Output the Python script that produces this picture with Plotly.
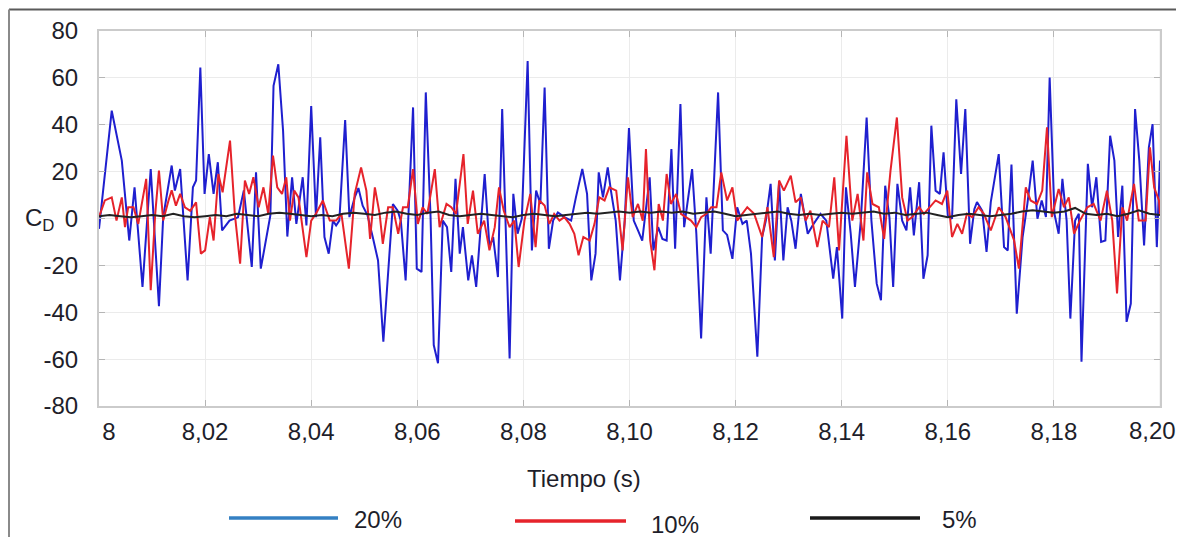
import numpy as np
import plotly.graph_objects as go

# ---- data (time offset in ms from t = 8 s, C_D values) ----
blue_ms = [0, 2.4, 4.3, 5.7, 6.7, 8.2, 9.75, 11.3, 12.1, 13.7, 14.3, 15.3, 16.7, 17.7, 18.3, 19.1, 19.9, 20.7,
           21.6, 22.4, 23.2, 24.6, 26.2, 27.3, 28.8, 29.6, 30.5, 32.3, 32.9, 33.8, 34.7, 35.5, 36.4, 37.2,
           38.4, 39.1, 40, 40.9, 41.7, 42.5, 43.3, 44.1, 44.7, 45.3, 46.4, 47.2, 48.2, 48.9, 49.7, 50.6,
           51.6, 52.6, 53.6, 54.7, 55.4, 56.3, 56.9, 57.8, 59.2, 59.9, 60.8, 61.6, 62.5, 63.1, 63.9, 64.8,
           65.6, 66.4, 67.2, 68, 68.6, 69.6, 70.3, 71.1, 72.7, 73.6, 74.3, 75.2, 76, 77.4,
           78.1, 78.9, 79.7, 80.8, 81.6, 82.4, 83.2, 84, 84.8, 85.6, 86.5, 87.8, 89, 89.9, 91.1, 92, 92.8,
           93.6, 94.2, 95, 95.9, 96.5, 97.4, 98.2, 99.1, 99.9, 100.8, 101.6, 102.4, 103.8, 104.5, 105.4,
           106.2, 107, 107.9, 108.6, 109.6, 110.3, 111.8, 112.6, 113.5, 114.5, 115.3, 116.7, 117.6, 118.4,
           119.4, 120.3, 121.3, 122.1, 122.9, 124.1, 125, 125.7, 126.6, 127.4, 128.2, 129, 129.8, 130.5,
           131.3, 132.3, 133.6, 134.7, 136, 137.1, 138.4, 139.1, 140.1, 140.8, 141.7, 142.5, 143.6, 144.7,
           145.6, 146.6, 147.4, 148.2, 149, 149.7, 150.5, 151.4, 152.2, 152.9, 153.6, 154.6, 155.4, 156.2,
           156.9, 157.7, 158.5,
           159.2, 160, 160.8, 161.6, 162.5, 163.3, 164.2, 165, 165.5, 166.5, 167.3, 168.1, 169.6, 170.6,
           171.3, 172, 173, 174.1, 175, 176, 176.9, 177.7, 178.5, 179.2, 180.1, 180.9, 181.6, 182.4, 183.1,
           184, 184.7, 185.2, 186.4, 187.2, 188, 188.9, 189.7, 190.6, 191.4, 192.1, 192.9, 193.7, 194.5,
           195.3, 196.1, 197, 197.9, 198.6, 199.4, 200]
blue_cd = [-4.4, 46, 24.7, -9.4, 13.3, -29.2, 21.1, -37.4, 0.6, 22.6, 11.9, 21.1, -26.4, 13.3, 16.2, 64.4, 10.5, 27.5,
           10.5, 24, -5.1, -0.9, 0.5, 12, -20.7, 19.7, -21.4, 1.3, 56.6, 65.8, 37.4, -7.7, 17.6, -2.3,
           17.6, -3, 48, 0.6, 34.6, -7.9, -15, -0.9, -3, -0.9, 42, 0.6, 9, 13, 5.5, 1.5,
           -7.9, -17.9, -52.6, -15, 6.2, 3.3, -0.9, -26.4, 47.4, -21.4, -22.8, 53.8, 0.6, -54, -61.8, -0.9,
           -3.7, -22.8, 16.9, -15, -3.7, -26.4, -15.7, -29.2, 19, -12.2, -7.9, -25, 46.7, -59.7,
           10.5, -6.5, 0, 67.2, -13.6, 11.9, 6.2, 55.9, -12.9, -0.9, 2.6, 0.5, -0.9, 9, 21.1, 10.5, -26.4,
           -15, 19.7, 9, 21.8, 11.9, -0.9, -26.4, -0.9, 38.6, -0.9, -5.1, -9.4, 17.6, -13.6, -3.7,
           -8.7, -9.4, 29.6, -12.9, 48.8, -3.7, 21.1, -6.5, -51.2, 9, -15, 53.8, -5.1, -7,
           -17.2, 4.8, -2.3, -0.9, -15, -59, -7.9, -0.9, 14.8, -17.9, 15.5, -17.9, 4.8, -0.9,
           -12.9, 10.5, -6.5, -2.3, 2, -0.9, -25.7, -12.2, -42.7, 13.3, -6.5, -29.2, -0.9, 43.1,
           -0.9, -27.8, -34.9, 14, 0.5, -29.2, 14.8, -0.9, -5.1, 13.3, -7.2, 15.5, -25.7, -15.7,
           39.6, 11.9, 10.5,
           28.2, 1.3, -0.1, 50.9, 19, 46.7, -10.8, 4, 7, 3.3, -14.3, 7, 27.5, -12.2,
           -13.6, 23, -40.6, -7.9, 6.2, 24.7, -0.1, 7.7, 0.6, 60.1, 2, -6.5, 16.9, -0.9, -42.7,
           -0.9, 2, -61.1, 23.3, 4.8, 17.6, -10, -9.4, 35.3, 24.7, -7.9, 14, -44.1, -36.3,
           46.7, 24.7, -11.5, 30.4, 40.3, -12.2, 24.7]

red_ms = [0, 1.1, 2.4, 3.3, 4.3, 4.9, 5.5, 6.5, 7.4, 8.9, 9.75, 10.6, 11.3, 12.1, 13.1, 13.7, 14.5, 15.3, 16.2,
          17.2, 18.3, 19.2, 20, 20.9, 21.6, 22.5, 23.3, 24.7, 25.6, 26.6, 27.5, 28.3, 29.1, 30.1, 31, 31.9,
          32.8, 33.6, 34.5, 35.3, 36, 36.8, 37.6,
          39.1, 40, 40.9, 42.2, 43.5, 44.7, 45.7, 47.1, 48.2, 49.4, 50.4, 51.1, 52, 52.9, 53.5, 54.5, 55.4,
          56.4, 57.3, 58.2, 59.2, 60.1, 61, 61.9, 63.3, 64.2, 65.5, 66.4, 67.3, 68.7, 69.5, 70.5, 71.4, 72.6,
          73.6, 74.6, 75.4, 76.3, 77.4, 78.3,
          79.1, 80.2, 81.3, 82.3, 83, 84, 84.9, 85.8, 86.8, 87.7, 88.7, 89.6, 90.4, 91.3, 92.5, 93.4, 94.3,
          95.3, 96.2, 97.5, 98.7, 99.7, 100.6, 101.6, 102.5, 103.1, 103.9, 104.7, 105.5, 106.3, 107, 107.8,
          108.8, 109.7, 110.6, 111.6, 112.6, 113.5, 114.5, 115.4, 116.4, 117.3,
          118.4, 119.4, 120.3, 121.2, 122.2, 123.5, 125, 126, 127.2, 128.2, 129.1, 130.4, 131.3, 132.3,
          133.2, 134.1, 135.4, 136.4, 137.6, 138.6, 139.5, 140.9, 142, 143, 144.1, 144.8, 145.8, 147, 148,
          149.2, 150.4, 151.4, 152.4, 153.3, 154.6, 155.5, 156.5,
          157.7, 158.9, 159.9, 160.8, 161.8, 162.7, 163.6, 164.6, 165.8, 166.8, 168.1, 169.6, 170.9, 172.5,
          173.4, 174.7, 175.6, 176.8, 177.8, 178.7, 179.6, 180.9, 181.9, 182.8, 183.8, 184.9, 186.3, 187.5,
          188.8, 190, 191, 191.9, 192.9, 193.8, 195.1, 196, 197.3, 198.1, 198.9, 199.8, 200]
red_cd = [0.6, 7.7, 9, -0.9, 9, -3.7, 4.8, 4.8, -2.3, 16.9, -30.6, 2, 20.4, -0.9, 7.7, 12, 5.5, 10.5, 4.8,
          3.3, 6.9, -15, -13.6, 0.6, -9.4, 19, 11.2, 33.2, 2, -19.3, 16.2, 10.5, 17.6, 4.8, 13.3, 2,
          26.8, 13.3, 10.5, 17.6, -0.9, 11.9, 9,
          -16.5, -0.9, 2, 7.7, -0.9, -0.9, 2, -21.4, 10.5, 21.8, 11.9, -8.7, 13.3, 2, -10.8, 4.8, 4.8,
          -6.5, 4.8, 4.8, 21.1, -2.3, 4.8, 2, 21.1, -3.7, 6.2, 4.8, 2, 27.5, -2.3, 11.9, -6.5, -0.9,
          -13.6, -3.7, 13.3, 3.3, -3.7, -0.9,
          -20.7, -0.9, 10.5, -12.2, 7.7, 5.5, -2.3, 2, -0.9, 0.6, -2.3, -6.5, -15.7, -7.9, -9.4, -2.3, 9,
          7.7, 13.3, 11.9, -13.6, 17.6, 0.6, 6.2, -0.9, 29.6, -9.4, -22.1, 6.2, -0.9, 19, 6.2,
          10.5, 2, 0.6, -0.9, -3.7, 0.6, 2, 4.8, 4.8, 19.7,
          7.7, 13.3, -0.9, 2, 4.8, 2, -7.9, 4.8, -16.5, 16.2, 11.9, 18.3, 6.9, 9,
          -0.9, 3.3, -12.2, -0.9, -3.7, 17.6, -13.6, 35.3, -0.9, 10.5, -9.4, 19.7, 6.2, 4.8, -8.7,
          20.4, 43.1, 9, -0.9, 0.6, 4.8, 2, 4.8,
          7.7, 6.2, 11.9, -7.9, -2.3, -6.5, 2, 0.6, 4.8, 2, -5.1, 4.8, 0.6, -9.4,
          -21.4, 13.3, 7.7, 6.2, 11.9, 38.9, 0.6, 12.6, 4.8, 9, -6.5, -0.9, 4.8, 6.2,
          -0.9, 11.9, -0.9, -32, 4.8, -0.9, 14.8, -0.9, -0.9, 30.4, 13.3, 7.7, 2]

black_ms = [0, 2, 4, 6, 8, 10, 12, 14, 16, 18, 20, 22, 24, 26, 28, 30, 32, 34, 36, 38, 40, 42, 44, 46, 48, 50,
            52, 54, 56, 58, 60, 62, 64, 66, 68, 70, 72, 74, 76, 78, 80, 82, 84, 86, 88, 90, 92, 94, 96, 98, 100,
            102, 104, 106, 108, 110, 112, 114, 116, 118, 120, 122, 124, 126, 128, 130, 132, 134, 136, 138, 140,
            142, 144, 146, 148, 150, 152, 154, 156, 158, 160, 162, 164, 166, 168, 170, 172, 174, 176, 178, 180,
            182, 184, 186, 188, 190, 192, 194, 196, 198, 200]
black_cd = [1, 1.5, 1, 0.5, 1, 1.5, 1, 2, 1, 0.5, 1, 1.5, 1, 2, 1.5, 1, 2, 2.5, 2, 1.5, 1, 1.5, 1, 2, 2.5, 2,
            1.5, 2.5, 3, 2, 1.5, 2.5, 3, 1.5, 1, 1.5, 2, 1.5, 1, 0.5, 1.5, 2, 1.5, 1, 1.5, 2, 2.5, 2, 2.5, 3, 2.5,
            3, 2.5, 3, 2.5, 3, 2, 2.5, 3, 2, 1, 1.5, 2, 2.5, 3, 2, 1.5, 2, 1.5, 2, 2.5,
            2, 2.5, 3, 2, 2.5, 1.5, 2, 2.5, 1.5, 0.5, 1.5, 2, 1.5, 1, 1.5, 2, 3, 3.5, 3, 2.5,
            3, 4.5, 2, 1.5, 2, 1, 2, 3.5, 2, 1.5]

x_tickvals = [8.00, 8.02, 8.04, 8.06, 8.08, 8.10, 8.12, 8.14, 8.16, 8.18]
x_ticktext = ["\u00a0\u00a0\u00a08", "8,02", "8,04", "8,06", "8,08", "8,10", "8,12", "8,14", "8,16", "8,18"]
x_last_label = "8,20"   # drawn as a separate text so it stays inside the page edge
y_tickvals = [-80, -60, -40, -20, 0, 20, 40, 60, 80]
y_ticktext = ["-80", "-60", "-40", "-20", "0", "20", "40", "60", "80"]
legend_names = ["20%", "10%", "5%"]

# ---- figure ----
FONT = "Liberation Sans, Arial, sans-serif"
TXT = "#1e1e2a"


def to_s(ms):
    return 8 + np.array(ms) / 1000.0


fig = go.Figure()
fig.add_trace(go.Scatter(x=to_s(blue_ms), y=blue_cd, mode="lines", name=legend_names[0],
                         line=dict(color="#1f1fcf", width=2)))
fig.add_trace(go.Scatter(x=to_s(red_ms), y=red_cd, mode="lines", name=legend_names[1],
                         line=dict(color="#e6232b", width=2)))
fig.add_trace(go.Scatter(x=to_s(black_ms), y=black_cd, mode="lines", name=legend_names[2],
                         line=dict(color="#222222", width=2)))

# page offset of the figure (default 8px body margin of the html page)
OFF = 8
W, H = 1184 - OFF, 537 - OFF
# plot area in page pixels: x 99..1160, y 31..406
L, R, T, B = 99 - OFF, W - (1160 - OFF), 31 - OFF, H - (406 - OFF)
pw, ph = W - L - R, H - T - B


def px(x):  # page pixel x -> paper
    return (x - OFF - L) / pw


def py(y):  # page pixel y -> paper
    return (H - B - (y - OFF)) / ph


fig.update_layout(
    width=W, height=H,
    margin=dict(l=L, r=R, t=T, b=B, autoexpand=False),
    paper_bgcolor="white", plot_bgcolor="white",
    showlegend=False,
    font=dict(family=FONT, size=24, color=TXT),
)
fig.update_xaxes(range=[8.0, 8.2], tickvals=x_tickvals, ticktext=x_ticktext,
                 showgrid=True, gridcolor="#ebebeb", gridwidth=1,
                 showline=True, linecolor="#cbcbcb", linewidth=2, mirror="ticks",
                 ticks="inside", ticklen=6, tickcolor="#b5b5b5", tickwidth=1,
                 zeroline=False, ticklabelstandoff=3,
                 tickfont=dict(family=FONT, size=24, color=TXT))
fig.update_yaxes(range=[-80, 80], tickvals=y_tickvals, ticktext=y_ticktext,
                 showgrid=True, gridcolor="#ebebeb", gridwidth=1,
                 showline=True, linecolor="#cbcbcb", linewidth=2, mirror="ticks",
                 ticks="inside", ticklen=6, tickcolor="#b5b5b5", tickwidth=1,
                 zeroline=False, ticklabelstandoff=14,
                 tickfont=dict(family=FONT, size=24, color=TXT))
# gridline + tick for the last x value (its label is placed separately)
fig.add_vline(x=8.2, line=dict(color="#ebebeb", width=1), layer="below")

fig.add_annotation(text=x_last_label, xref="paper", yref="paper", x=px(1152.5), y=py(430),
                   xanchor="center", yanchor="middle", showarrow=False,
                   font=dict(family=FONT, size=24, color=TXT))

# axis titles
fig.add_annotation(text="C<sub>D</sub>", xref="paper", yref="paper", x=px(39), y=py(219),
                   xanchor="center", yanchor="middle", showarrow=False,
                   font=dict(family=FONT, size=24, color=TXT))
fig.add_annotation(text="Tiempo (s)", xref="paper", yref="paper", x=px(584), y=py(478),
                   xanchor="center", yanchor="middle", showarrow=False,
                   font=dict(family=FONT, size=24, color=TXT))

# custom legend (long line samples)
legend_items = [
    (legend_names[0], "#3480c3", 229, 338, 518, 352, 519),
    (legend_names[1], "#e6232b", 515, 626, 521, 649, 524),
    (legend_names[2], "#1a1a1a", 810, 920, 518, 940, 519),
]
for name, col, x0, x1, yl, xt, yt in legend_items:
    fig.add_shape(type="line", xref="paper", yref="paper", x0=px(x0), x1=px(x1), y0=py(yl), y1=py(yl),
                  line=dict(color=col, width=3.5))
    fig.add_annotation(text=name, xref="paper", yref="paper", x=px(xt), y=py(yt),
                       xanchor="left", yanchor="middle", showarrow=False,
                       font=dict(family=FONT, size=24, color=TXT))

# outer frame (top and left edges visible in reference)
fig.add_shape(type="line", xref="paper", yref="paper", x0=px(9), x1=px(1184), y0=py(9.5), y1=py(9.5),
              line=dict(color="#5a5a5a", width=2))
fig.add_shape(type="line", xref="paper", yref="paper", x0=px(9), x1=px(9), y0=py(9.5), y1=py(537),
              line=dict(color="#8a8a8a", width=2))

fig.write_html("out.html")
